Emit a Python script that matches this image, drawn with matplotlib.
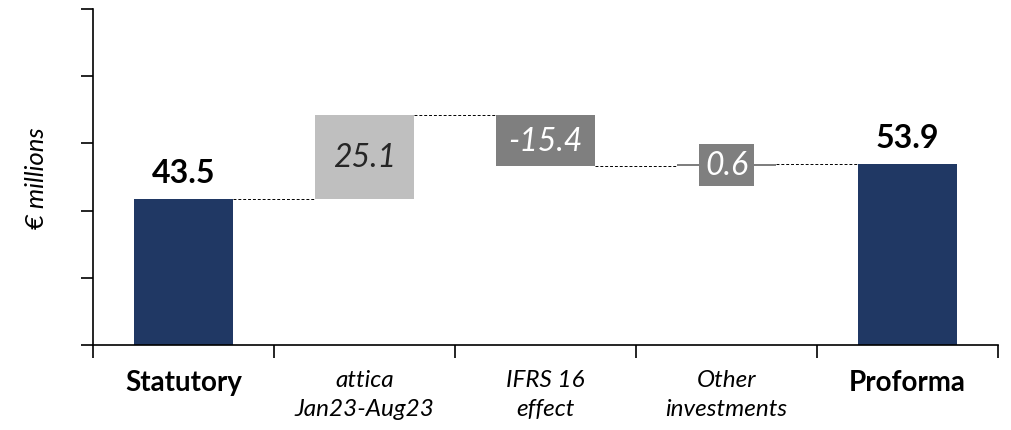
import matplotlib.pyplot as plt

# waterfall data (EUR millions)
categories = ["Statutory", "attica\nJan23-Aug23", "IFRS 16\neffect", "Other\ninvestments", "Proforma"]
steps = [43.5, 25.1, -15.4, 0.6, 53.9]
kinds = ["total", "delta", "delta", "delta", "total"]

navy = "#203864"
light_grey = "#BFBFBF"
dark_grey = "#7F7F7F"

plt.rcParams['font.family'] = ['Lato', 'DejaVu Sans']

fig = plt.figure(figsize=(10.12, 4.31), dpi=100)
ax = fig.add_axes([0.0919, 0.1972, 0.8943, 0.7796])

width = 0.55
bottoms = []
tops = []
running = 0.0
for v, k in zip(steps, kinds):
    if k == "total":
        bottoms.append(0.0)
        tops.append(v)
        running = v
    else:
        start = running
        running = running + v
        bottoms.append(min(start, running))
        tops.append(max(start, running))

colors = [navy, light_grey, dark_grey, dark_grey, navy]
x = range(len(categories))
for i in x:
    ax.bar(i, tops[i] - bottoms[i], bottom=bottoms[i], width=width,
           color=colors[i], edgecolor="none", zorder=2)

# dashed connectors between bars
level = 0.0
for i in range(len(steps) - 1):
    if kinds[i] == "total":
        level = steps[i]
    else:
        level = level + steps[i]
    ax.plot([i + width / 2, i + 1 - width / 2], [level, level],
            color="black", lw=0.7, ls=(0, (3, 2)), zorder=1)

# value labels
ax.text(0, tops[0] + 3.6, f"{steps[0]:.1f}", ha="center", va="bottom",
        fontsize=23, fontweight="bold")
ax.text(4, tops[4] + 3.6, f"{steps[4]:.1f}", ha="center", va="bottom",
        fontsize=23, fontweight="bold")
ax.text(1, (tops[1] + bottoms[1]) / 2, f"{steps[1]:.1f}", ha="center", va="center",
        fontsize=23, style="italic", color="#262626")
ax.text(2, tops[2] - 8, f"{steps[2]:.1f}", ha="center", va="center",
        fontsize=23, style="italic", color="white")
ax.text(3, (tops[3] + bottoms[3]) / 2, f"{steps[3]:.1f}", ha="center", va="center",
        fontsize=23, style="italic", color="white",
        bbox=dict(boxstyle="square,pad=0.18", fc=dark_grey, ec="none"), zorder=3)

ax.set_xlim(-0.5, len(categories) - 0.5)
ax.set_ylim(0, 100)
ax.set_yticks(range(0, 101, 20))
ax.set_yticklabels([])
ax.tick_params(axis="y", direction="out", length=9, width=1.2)

ax.set_xticks([i - 0.5 for i in range(len(categories) + 1)])
ax.set_xticklabels([])
ax.tick_params(axis="x", which="major", direction="out", length=9, width=1.2)
ax.set_xticks(list(x), minor=True)
ax.set_xticklabels(categories, minor=True)
ax.tick_params(axis="x", which="minor", length=0, pad=17, labelsize=17.5)
for i, lab in enumerate(ax.get_xticklabels(minor=True)):
    if kinds[i] == "total":
        lab.set_fontweight("bold")
        lab.set_fontsize(20)
    else:
        lab.set_fontstyle("italic")
        lab.set_linespacing(1.5)

for s in ["top", "right"]:
    ax.spines[s].set_visible(False)
for s in ["left", "bottom"]:
    ax.spines[s].set_linewidth(1.2)

ax.set_ylabel("€ millions", fontsize=18.5, style="italic", labelpad=20)

fig.savefig("out.png", dpi=100)
